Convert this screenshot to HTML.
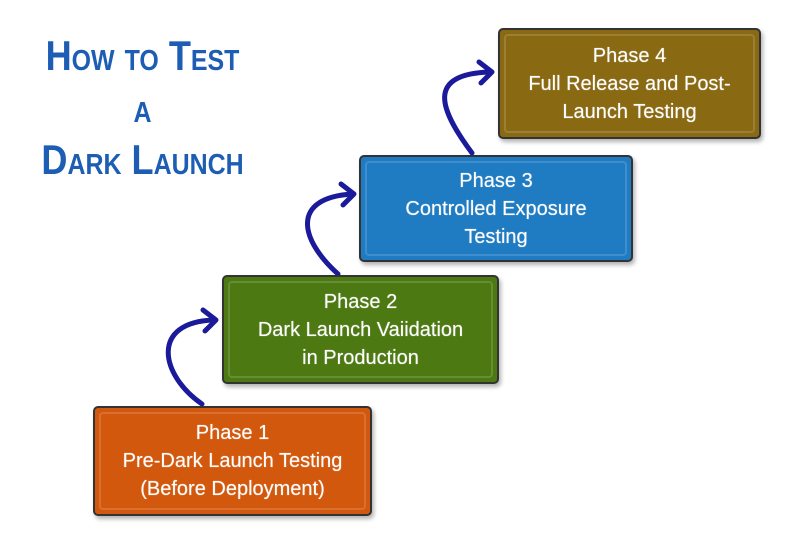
<!DOCTYPE html>
<html><head><style>
body{margin:0;width:800px;height:533px;background:#fff;position:relative;overflow:hidden;font-family:"Liberation Sans",sans-serif}
.t{position:absolute;left:0;width:285px;text-align:center;color:#1d5db3;font-family:"Liberation Sans Narrow","Liberation Sans",sans-serif;font-weight:bold;font-variant:small-caps;font-size:42px;line-height:52px;transform:scaleX(0.86)}
.b{position:absolute;border:2px solid #333;border-radius:5px;box-shadow:2px 3px 4px rgba(0,0,0,.3);color:#fff;text-align:center;font-size:20px;line-height:28px;display:flex;flex-direction:column;justify-content:center;box-sizing:border-box;text-shadow:0 0 1px rgba(255,255,255,.6)}
.b::before{content:"";position:absolute;inset:4px;border:2px solid rgba(255,255,255,.15);border-radius:4px}
</style></head><body>
<div class="t" style="top:30px">How to Test</div>
<div class="t" style="top:82px">a</div>
<div class="t" style="top:134px">Dark Launch</div>
<svg width="800" height="533" style="position:absolute;left:0;top:0">
<g fill="none" stroke="#1a1a9a" stroke-width="5" stroke-linecap="round" stroke-linejoin="round">
<path d="M202,404 C160,375 150,322 214,320"/><path d="M203,310 L216,320 L205,331"/>
<path d="M338,274 C300,240 290,198 352,194"/><path d="M341,184 L354,194 L343,205"/>
<path d="M472,153 C440,110 425,74 490,72"/><path d="M479,62 L492,72 L481,83"/>
</g></svg>
<div class="b" style="left:93px;top:406px;width:279px;height:110px;background:#d2580d">Phase 1<br>Pre-Dark Launch Testing<br>(Before Deployment)</div>
<div class="b" style="left:222px;top:275px;width:277px;height:109px;background:#4d7913">Phase 2<br>Dark Launch Vaiidation<br>in Production</div>
<div class="b" style="left:359px;top:155px;width:274px;height:107px;background:#1f7bc2">Phase 3<br>Controlled Exposure<br>Testing</div>
<div class="b" style="left:498px;top:28px;width:263px;height:111px;background:#8a6913">Phase 4<br>Full Release and Post-<br>Launch Testing</div>
</body></html>
